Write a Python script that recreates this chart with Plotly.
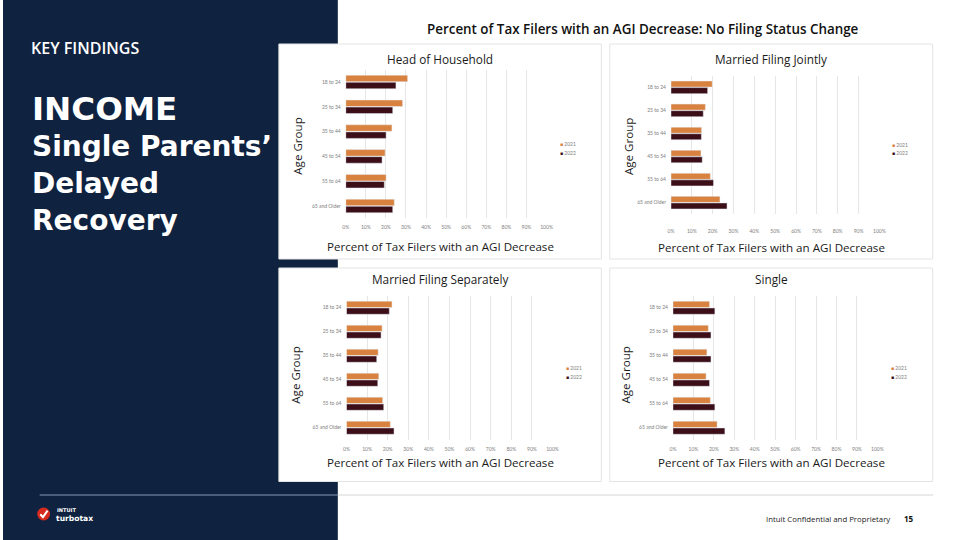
import plotly.graph_objects as go

W, H = 959, 540

age_groups = ["18 to 24", "25 to 34", "35 to 44", "45 to 54", "55 to 64", "65 and Older"]
years = ["2021", "2022"]

panel_titles = ["Head of Household", "Married Filing Jointly", "Married Filing Separately", "Single"]

hoh_2021 = [0.308, 0.283, 0.230, 0.196, 0.201, 0.242]
hoh_2022 = [0.250, 0.234, 0.201, 0.181, 0.192, 0.234]
mfj_2021 = [0.198, 0.165, 0.147, 0.144, 0.189, 0.235]
mfj_2022 = [0.176, 0.155, 0.146, 0.150, 0.204, 0.269]
mfs_2021 = [0.221, 0.173, 0.154, 0.157, 0.176, 0.213]
mfs_2022 = [0.208, 0.168, 0.147, 0.152, 0.181, 0.231]
sgl_2021 = [0.179, 0.173, 0.166, 0.162, 0.183, 0.216]
sgl_2022 = [0.205, 0.186, 0.186, 0.179, 0.205, 0.254]

series = [(hoh_2021, hoh_2022), (mfj_2021, mfj_2022), (mfs_2021, mfs_2022), (sgl_2021, sgl_2022)]

C2021 = "#d9823f"
C2022 = "#3b0e18"
NAVY = "#0f2341"
FONT = "Open Sans"
TICKFONT = "Lato"
HEADFONT = "DejaVu Sans"


def px(x):
    return x / W


def py(y):
    return 1 - y / H


geo = [
    dict(x0=346.0, x1=548.7, yt=69.6, yb=218.4, tl=4, card=(278.5, 604, 44, 259),
         sub=(441.5, 59), xt=(441.5, 246.7), yt_=(296.5, 146), leg=(560.5, 144, 152.7)),
    dict(x0=674.3, x1=884.7, yt=75.8, yb=214.2, tl=12, card=(612.5, 938.5, 44, 259),
         sub=(775.5, 59.3), xt=(775.5, 247.3), yt_=(631, 146), leg=(895.5, 145, 153.3)),
    dict(x0=346.7, x1=554.7, yt=295.7, yb=439.7, tl=4, card=(278.5, 604, 268, 481.5),
         sub=(441.5, 279), xt=(441.5, 462.7), yt_=(294.5, 375), leg=(566, 367.7, 376.7)),
    dict(x0=676.3, x1=882.7, yt=295.7, yb=439.7, tl=4, card=(612.5, 938.5, 268, 481.5),
         sub=(775.5, 279), xt=(775.5, 462.7), yt_=(627.5, 375), leg=(894, 367.7, 376.7)),
]

fig = go.Figure()
shapes = []
annotations = []

shapes.append(dict(type="rect", xref="paper", yref="paper", x0=0, x1=px(338), y0=0, y1=1,
                   fillcolor=NAVY, line=dict(width=0), layer="below"))

for i, g in enumerate(geo):
    n = "" if i == 0 else str(i + 1)
    cx0, cx1, cy0, cy1 = g["card"]
    shapes.append(dict(type="rect", xref="paper", yref="paper", x0=px(cx0), x1=px(cx1),
                       y0=py(cy1), y1=py(cy0), fillcolor="white",
                       line=dict(color="#e4e4e4", width=1), layer="below"))
    v21, v22 = series[i]
    fig.add_trace(go.Bar(y=age_groups, x=v21, name=years[0], orientation="h",
                         marker=dict(color=C2021), xaxis="x" + n, yaxis="y" + n,
                         showlegend=False))
    fig.add_trace(go.Bar(y=age_groups, x=v22, name=years[1], orientation="h",
                         marker=dict(color=C2022), xaxis="x" + n, yaxis="y" + n,
                         showlegend=False))
    fig.layout["xaxis" + n] = dict(
        domain=[px(g["x0"]), px(g["x1"])], anchor="y" + n, range=[0, 1.0], dtick=0.1,
        tickformat=".0%", showgrid=True, gridcolor="#e6e6e6", gridwidth=1, zeroline=False,
        showline=False, ticks="outside", ticklen=g["tl"], tickcolor="rgba(0,0,0,0)",
        tickfont=dict(family=TICKFONT, size=5, color="#808080"), fixedrange=True)
    fig.layout["yaxis" + n] = dict(
        domain=[py(g["yb"]), py(g["yt"])], anchor="x" + n, type="category",
        categoryorder="array", categoryarray=age_groups, range=[5.5, -0.5],
        showgrid=False, zeroline=False, showline=False, ticks="outside", ticklen=3,
        tickcolor="rgba(0,0,0,0)",
        tickfont=dict(family=TICKFONT, size=5, color="#808080"), fixedrange=True)
    annotations.append(dict(text=panel_titles[i], x=px(g["sub"][0]), y=py(g["sub"][1]),
                            xref="paper", yref="paper", showarrow=False, xanchor="center",
                            yanchor="middle", font=dict(family=FONT, size=11.8, color="#1a1a1a")))
    annotations.append(dict(text="Percent of Tax Filers with an AGI Decrease", x=px(g["xt"][0]),
                            y=py(g["xt"][1]), xref="paper", yref="paper", showarrow=False,
                            xanchor="center", yanchor="middle",
                            font=dict(family=FONT, size=11.6, color="#1a1a1a")))
    annotations.append(dict(text="Age Group", x=px(g["yt_"][0]), y=py(g["yt_"][1]),
                            xref="paper", yref="paper", showarrow=False, textangle=-90,
                            xanchor="center", yanchor="middle",
                            font=dict(family=FONT, size=11.6, color="#1a1a1a")))
    lx, ly1, ly2 = g["leg"]
    for yr, col, yy in ((years[0], C2021, ly1), (years[1], C2022, ly2)):
        annotations.append(dict(text=f"<span style='color:{col}'>■</span> {yr}", x=px(lx),
                                y=py(yy), xref="paper", yref="paper", showarrow=False,
                                xanchor="left", yanchor="middle",
                                font=dict(family=TICKFONT, size=5, color="#808080")))

annotations.append(dict(text="Percent of Tax Filers with an AGI Decrease: No Filing Status Change",
                        x=px(646), y=py(29), xref="paper", yref="paper", showarrow=False,
                        xanchor="center", yanchor="middle",
                        font=dict(family=FONT, size=13.4, color="#111111", weight=600)))

annotations.append(dict(text="KEY FINDINGS", x=px(26), y=py(47.5), xref="paper", yref="paper",
                        showarrow=False, xanchor="left", yanchor="middle",
                        font=dict(family=FONT, size=16, color="white", weight=600)))

left_lines = [
    ("INCOME", 109, 32.5),
    ("Single Parents’", 146, 28),
    ("Delayed", 183, 28),
    ("Recovery", 220, 28),
]
for t, yy, fs in left_lines:
    annotations.append(dict(text=t, x=px(27), y=py(yy), xref="paper", yref="paper",
                            showarrow=False, xanchor="left", yanchor="middle",
                            font=dict(family=HEADFONT, size=fs, color="white", weight=700)))

shapes.append(dict(type="line", xref="paper", yref="paper", x0=px(37), x1=px(338),
                   y0=py(495), y1=py(495), line=dict(color="#8797b0", width=1)))
shapes.append(dict(type="line", xref="paper", yref="paper", x0=px(338), x1=px(939),
                   y0=py(495), y1=py(495), line=dict(color="#d6d6d6", width=1)))

shapes.append(dict(type="circle", xref="paper", yref="paper", x0=px(34.5), x1=px(47.5),
                   y0=py(520.5), y1=py(507.5), fillcolor="#d52b1e", line=dict(width=0)))
chk = f"M {px(37.6)} {py(514.3)} L {px(40.3)} {py(517.2)} L {px(45.0)} {py(510.6)}"
shapes.append(dict(type="path", xref="paper", yref="paper", path=chk,
                   line=dict(color="white", width=2)))
annotations.append(dict(text="INTUIT", x=px(52), y=py(510.3), xref="paper", yref="paper",
                        showarrow=False, xanchor="left", yanchor="middle",
                        font=dict(family=HEADFONT, size=5, color="white", weight=700)))
annotations.append(dict(text="turbotax", x=px(51.5), y=py(518.6), xref="paper", yref="paper",
                        showarrow=False, xanchor="left", yanchor="middle",
                        font=dict(family=HEADFONT, size=7.6, color="white", weight=700)))

annotations.append(dict(text="Intuit Confidential and Proprietary", x=px(897), y=py(518.5),
                        xref="paper", yref="paper", showarrow=False, xanchor="right",
                        yanchor="middle", font=dict(family=FONT, size=7.8, color="#222222")))
annotations.append(dict(text="15", x=px(907.5), y=py(518.5), xref="paper", yref="paper",
                        showarrow=False, xanchor="left", yanchor="middle",
                        font=dict(family=FONT, size=8, color="#111111", weight=700)))

fig.update_layout(
    width=W, height=H, margin=dict(l=0, r=0, t=0, b=0), paper_bgcolor="white",
    plot_bgcolor="rgba(0,0,0,0)", barmode="group", bargap=0.43, bargroupgap=0.08,
    shapes=shapes, annotations=annotations, showlegend=False,
    font=dict(family=FONT),
)

fig.write_html("out.html", config={"displayModeBar": False},
               post_script="document.body.style.margin='0';document.body.style.overflow='hidden';")
